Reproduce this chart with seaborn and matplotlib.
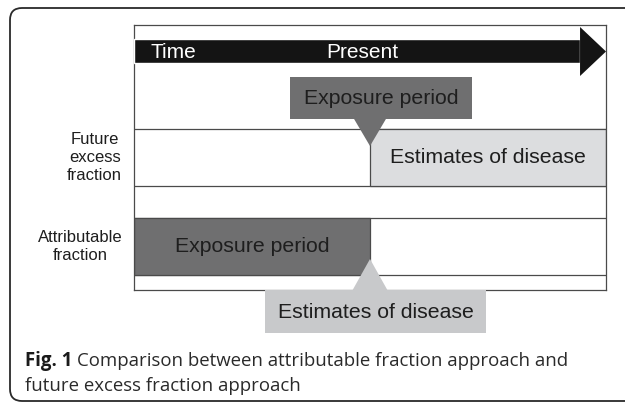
import matplotlib
matplotlib.use("Agg")
import matplotlib.pyplot as plt
import seaborn as sns
from matplotlib.patches import Polygon, Rectangle, FancyBboxPatch

# timeline (arbitrary time units, present in the middle)
time_start = 0
present = 50
time_end = 100
time_labels = ["Time", "Present"]

# rows of the diagram
approaches = ["Future\nexcess\nfraction", "Attributable\nfraction"]
row_top = [104, 193]
row_bottom = [161, 250]

# spans along the time axis for each approach
exposure_spans = [(33.0, 71.6), (time_start, present)]   # callout / bar
disease_spans = [(present, time_end), (27.8, 74.6)]      # bar / callout

DARK = "#6f6f70"
LIGHT_UP = "#dcdddf"
LIGHT_LOW = "#c8c9cb"
TXT = "#1e1e1e"
LINE = "#4a4a4a"

sns.set_theme(style="white")
plt.rcParams["font.family"] = ["Liberation Sans", "DejaVu Sans"]

fig = plt.figure(figsize=(6.25, 4.05), dpi=100)

# background layer for the rounded figure frame
bg = fig.add_axes([0, 0, 1, 1])
bg.set_xlim(0, 625)
bg.set_ylim(405, 0)
bg.axis("off")
bg.add_patch(FancyBboxPatch((10, 8), 640, 393, boxstyle="round,pad=0,rounding_size=12",
                            fc="white", ec="#2a2a2a", lw=1.3))

ax = fig.add_axes([134 / 625, 115 / 405, 472 / 625, 265 / 405])
ax.set_xlim(time_start, time_end)
ax.set_ylim(265, 0)
ax.set_xticks([])
ax.set_yticks([])
for s in ax.spines.values():
    s.set_color(LINE)
    s.set_linewidth(0.9)
ax.patch.set_alpha(0)

for y in row_top + row_bottom:
    ax.axhline(y, color=LINE, lw=0.9, zorder=1)

# timeline arrow
ax.barh(26, 94.5 - time_start, left=time_start, height=24, color="#141414", zorder=3)
ax.add_patch(Polygon([(94.5, 2), (time_end, 26.5), (94.5, 51)], closed=True,
                     fc="#141414", ec="none", zorder=3, clip_on=False))
ax.text(3.4, 33, time_labels[0], color="white", fontsize=15, va="baseline", ha="left", zorder=4)
ax.text(48.4, 33, time_labels[1], color="white", fontsize=15, va="baseline", ha="center", zorder=4)

# future excess fraction: disease bar after present, exposure callout above
fut_h = row_bottom[0] - row_top[0]
d0, d1 = disease_spans[0]
ax.barh(row_top[0] + fut_h / 2, d1 - d0, left=d0, height=fut_h, color=LIGHT_UP,
        edgecolor=LINE, lw=0.9, zorder=2)
ax.text((d0 + d1) / 2, row_top[0] + fut_h / 2, "Estimates of disease", fontsize=15.3,
        color=TXT, ha="center", va="center", zorder=4)
e0, e1 = exposure_spans[0]
ax.add_patch(Rectangle((e0, 52), e1 - e0, 42, fc=DARK, ec="none", zorder=5))
ax.add_patch(Polygon([(present - 3.5, 93), (present + 3.5, 93), (present, 121)],
                     closed=True, fc=DARK, ec="none", zorder=5))
ax.text((e0 + e1) / 2, 73, "Exposure period", fontsize=15.3, color=TXT,
        ha="center", va="center", zorder=6)

# attributable fraction: exposure bar before present, disease callout below
att_h = row_bottom[1] - row_top[1]
e0, e1 = exposure_spans[1]
ax.barh(row_top[1] + att_h / 2, e1 - e0, left=e0, height=att_h, color=DARK,
        edgecolor=LINE, lw=0.9, zorder=2)
ax.text((e0 + e1) / 2, row_top[1] + att_h / 2, "Exposure period", fontsize=15.3,
        color=TXT, ha="center", va="center", zorder=4)
d0, d1 = disease_spans[1]
ax.add_patch(Rectangle((d0, 265), d1 - d0, 43, fc=LIGHT_LOW, ec="none", zorder=5, clip_on=False))
ax.add_patch(Polygon([(present - 3.8, 266), (present + 3.8, 266), (present, 234)],
                     closed=True, fc=LIGHT_LOW, ec="none", zorder=5, clip_on=False))
ax.text((d0 + d1) / 2, 287, "Estimates of disease", fontsize=15.3, color=TXT,
        ha="center", va="center", zorder=6, clip_on=False)

# row labels
for lab, t, b in zip(approaches, row_top, row_bottom):
    ax.text(-2.5, (t + b) / 2, lab, fontsize=12, color=TXT, ha="right", va="center",
            multialignment="center", linespacing=1.25, clip_on=False)

# caption
cap_font = ["Open Sans", "DejaVu Sans"]
cap_size = 13.4
fig_lab = fig.text(25 / 625, 1 - 361 / 405, "Fig. 1", fontsize=cap_size, fontweight="bold",
                   color="#1a1a1a", va="center", family=cap_font)
r = fig.canvas.get_renderer()
bb = fig_lab.get_window_extent(r)
fig.text((bb.x1 + 5) / 625, 1 - 361 / 405,
         "Comparison between attributable fraction approach and",
         fontsize=cap_size, color="#2a2a2a", va="center", family=cap_font)
fig.text(25 / 625, 1 - 386 / 405, "future excess fraction approach",
         fontsize=cap_size, color="#2a2a2a", va="center", family=cap_font)

fig.savefig("out.png", dpi=100)
